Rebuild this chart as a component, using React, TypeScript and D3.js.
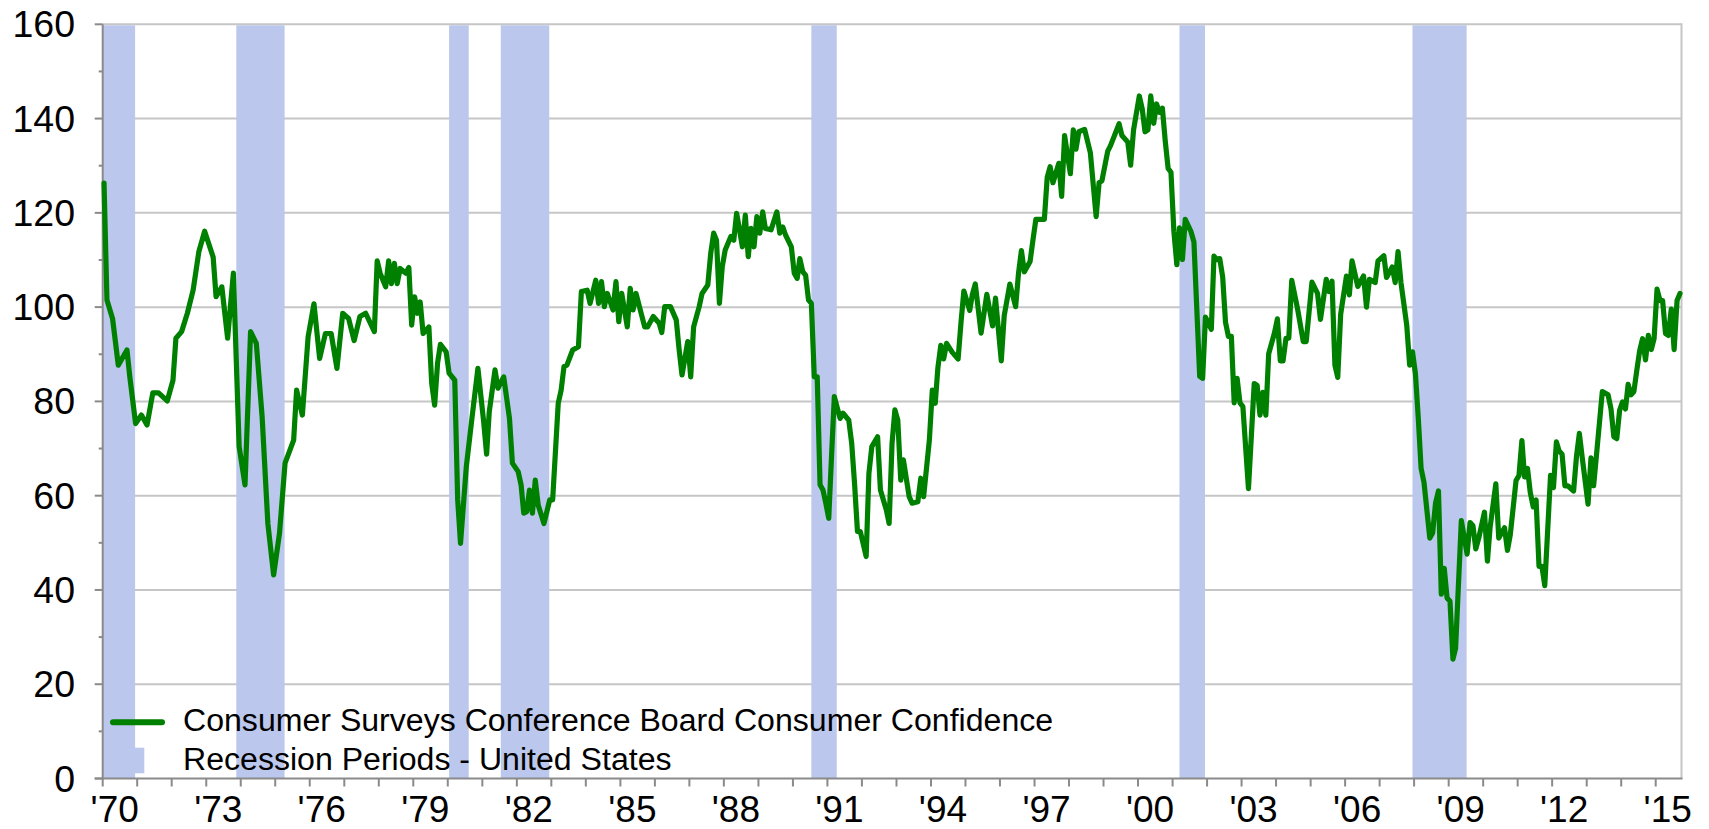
import React from "react";
import * as d3 from "d3";

// Conference Board Consumer Confidence, [month, value]
const series: [string, number][] = [
  ["1970-01", 126.3], ["1970-02", 101.5], ["1970-04", 97.6], ["1970-06", 87.7], ["1970-09", 90.9], ["1970-10", 85.2], ["1970-12", 75.3],
  ["1971-02", 77.1], ["1971-04", 75.0], ["1971-06", 81.8], ["1971-08", 81.8], ["1971-11", 80.1],
  ["1972-01", 84.5], ["1972-02", 93.4], ["1972-04", 94.8], ["1972-06", 98.7], ["1972-08", 103.6], ["1972-10", 111.8], ["1972-12", 116.1],
  ["1973-03", 110.6], ["1973-04", 102.2], ["1973-06", 104.3], ["1973-08", 93.4], ["1973-10", 107.2], ["1973-12", 70.4],
  ["1974-02", 62.3], ["1974-04", 94.8], ["1974-06", 92.3], ["1974-08", 76.8], ["1974-10", 54.1], ["1974-12", 43.2],
  ["1975-02", 52.0], ["1975-04", 66.9], ["1975-07", 71.8], ["1975-08", 82.4], ["1975-10", 77.1], ["1975-12", 93.7],
  ["1976-02", 100.7], ["1976-04", 89.1], ["1976-06", 94.4], ["1976-08", 94.4], ["1976-10", 87.0], ["1976-12", 98.7],
  ["1977-02", 97.6], ["1977-04", 92.9], ["1977-06", 98.0], ["1977-08", 98.7], ["1977-11", 94.8], ["1977-12", 109.8],
  ["1978-01", 107.2], ["1978-03", 104.3], ["1978-04", 109.8], ["1978-05", 105.0], ["1978-06", 109.3], ["1978-07", 105.0],
  ["1978-08", 108.2], ["1978-10", 107.2], ["1978-11", 108.4], ["1978-12", 96.2],
  ["1979-01", 102.2], ["1979-02", 98.7], ["1979-03", 101.1], ["1979-04", 94.4], ["1979-06", 95.8], ["1979-07", 83.8],
  ["1979-08", 79.2], ["1979-09", 88.1], ["1979-10", 92.1], ["1979-12", 90.5],
  ["1980-01", 86.0], ["1980-03", 84.5], ["1980-04", 59.1], ["1980-05", 49.9], ["1980-07", 66.1], ["1980-09", 76.8], ["1980-11", 87.0],
  ["1981-01", 75.7], ["1981-02", 68.8], ["1981-03", 77.8], ["1981-05", 86.7], ["1981-06", 82.8], ["1981-08", 85.2], ["1981-10", 76.4], ["1981-11", 66.9],
  ["1982-01", 65.1], ["1982-02", 62.3], ["1982-03", 56.3], ["1982-04", 56.6], ["1982-05", 61.2], ["1982-06", 56.3], ["1982-07", 63.3],
  ["1982-08", 58.0], ["1982-10", 54.1], ["1982-12", 59.1],
  ["1983-01", 59.1], ["1983-03", 79.6], ["1983-04", 82.4], ["1983-05", 87.4], ["1983-06", 87.7], ["1983-08", 90.9], ["1983-10", 91.6], ["1983-11", 103.3],
  ["1984-01", 103.6], ["1984-02", 100.8], ["1984-04", 105.7], ["1984-05", 100.8], ["1984-06", 105.4], ["1984-07", 100.1], ["1984-08", 102.9],
  ["1984-10", 99.4], ["1984-11", 105.4], ["1984-12", 96.9],
  ["1985-01", 102.9], ["1985-03", 95.8], ["1985-04", 104.0], ["1985-05", 99.4], ["1985-06", 102.9], ["1985-09", 95.8], ["1985-10", 95.8], ["1985-12", 98.0],
  ["1986-02", 96.6], ["1986-03", 94.6], ["1986-04", 100.1], ["1986-06", 100.1], ["1986-08", 97.3], ["1986-09", 90.9], ["1986-10", 85.6], ["1986-12", 92.7],
  ["1987-01", 85.2], ["1987-02", 95.8], ["1987-04", 100.1], ["1987-05", 102.9], ["1987-07", 104.7], ["1987-08", 111.4], ["1987-09", 115.7],
  ["1987-10", 114.2], ["1987-11", 100.8], ["1987-12", 108.6],
  ["1988-01", 112.1], ["1988-03", 115.0], ["1988-04", 114.2], ["1988-05", 119.9], ["1988-06", 116.4], ["1988-07", 112.8], ["1988-08", 119.5],
  ["1988-09", 110.7], ["1988-10", 116.7], ["1988-11", 112.8], ["1988-12", 119.2],
  ["1989-01", 115.7], ["1989-02", 120.2], ["1989-03", 116.7], ["1989-05", 116.4], ["1989-07", 120.2], ["1989-08", 115.7], ["1989-09", 117.0],
  ["1989-10", 115.3], ["1989-12", 112.8],
  ["1990-01", 107.2], ["1990-02", 106.1], ["1990-03", 110.3], ["1990-04", 107.5], ["1990-05", 106.8], ["1990-06", 101.5], ["1990-07", 100.8],
  ["1990-08", 85.2], ["1990-09", 85.2], ["1990-10", 62.3], ["1990-11", 61.2], ["1990-12", 58.4],
  ["1991-01", 55.2], ["1991-02", 69.0], ["1991-03", 81.0], ["1991-05", 76.4], ["1991-06", 77.5], ["1991-08", 76.0], ["1991-09", 71.1],
  ["1991-10", 62.6], ["1991-11", 52.4], ["1991-12", 52.4],
  ["1992-02", 47.1], ["1992-03", 64.7], ["1992-04", 70.4], ["1992-06", 72.5], ["1992-07", 61.2], ["1992-09", 57.0], ["1992-10", 54.1],
  ["1992-11", 71.1], ["1992-12", 78.2],
  ["1993-01", 76.0], ["1993-02", 63.3], ["1993-03", 67.6], ["1993-05", 59.8], ["1993-06", 58.4], ["1993-08", 58.7], ["1993-09", 63.7],
  ["1993-10", 59.8], ["1993-12", 71.8],
  ["1994-01", 82.4], ["1994-02", 79.6], ["1994-03", 87.1], ["1994-04", 91.9], ["1994-05", 89.0], ["1994-06", 92.3], ["1994-08", 90.4],
  ["1994-10", 89.0], ["1994-11", 96.8], ["1994-12", 103.4],
  ["1995-02", 99.3], ["1995-03", 102.7], ["1995-04", 104.9], ["1995-06", 94.5], ["1995-08", 102.7], ["1995-10", 96.0], ["1995-11", 101.9],
  ["1996-01", 88.6], ["1996-02", 98.2], ["1996-04", 104.9], ["1996-06", 100.1], ["1996-07", 107.1], ["1996-08", 112.0], ["1996-09", 107.5],
  ["1996-11", 109.7], ["1996-12", 114.2],
  ["1997-01", 118.6], ["1997-04", 118.6], ["1997-05", 127.5], ["1997-06", 129.8], ["1997-07", 126.4], ["1997-09", 130.5], ["1997-10", 123.5],
  ["1997-11", 136.4], ["1997-12", 132.4],
  ["1998-01", 128.3], ["1998-02", 137.6], ["1998-03", 133.5], ["1998-04", 137.2], ["1998-06", 137.7], ["1998-08", 132.7], ["1998-10", 119.2],
  ["1998-11", 126.4], ["1998-12", 126.8],
  ["1999-02", 133.1], ["1999-03", 134.2], ["1999-06", 138.9], ["1999-07", 136.4], ["1999-09", 135.0], ["1999-10", 130.1], ["1999-11", 137.6],
  ["2000-01", 144.8], ["2000-02", 142.0], ["2000-03", 137.2], ["2000-04", 137.6], ["2000-05", 144.8], ["2000-06", 139.0], ["2000-07", 143.1],
  ["2000-08", 141.3], ["2000-09", 142.2], ["2000-10", 135.3], ["2000-11", 129.4], ["2000-12", 128.6],
  ["2001-01", 116.0], ["2001-02", 109.0], ["2001-03", 116.8], ["2001-04", 110.1], ["2001-05", 118.6], ["2001-07", 116.0], ["2001-08", 113.8],
  ["2001-10", 85.3], ["2001-11", 84.9], ["2001-12", 97.9],
  ["2002-02", 95.3], ["2002-03", 110.8], ["2002-04", 110.1], ["2002-05", 110.3], ["2002-06", 106.4], ["2002-07", 96.8], ["2002-08", 93.8],
  ["2002-09", 93.8], ["2002-10", 79.7], ["2002-11", 84.9], ["2002-12", 79.7],
  ["2003-01", 78.9], ["2003-03", 61.5], ["2003-05", 83.8], ["2003-06", 83.4], ["2003-07", 77.1], ["2003-08", 81.9], ["2003-09", 77.1],
  ["2003-10", 90.1], ["2003-12", 94.5],
  ["2004-01", 97.5], ["2004-02", 88.6], ["2004-03", 88.6], ["2004-04", 93.4], ["2004-05", 93.4], ["2004-06", 105.7], ["2004-08", 99.7],
  ["2004-10", 92.7], ["2004-11", 92.7],
  ["2005-01", 105.3], ["2005-03", 102.9], ["2005-04", 97.4], ["2005-06", 105.9], ["2005-07", 103.3], ["2005-08", 105.5], ["2005-09", 87.7],
  ["2005-10", 85.1], ["2005-11", 98.5],
  ["2006-01", 106.6], ["2006-02", 102.6], ["2006-03", 109.8], ["2006-05", 104.4], ["2006-07", 106.6], ["2006-08", 100.0], ["2006-09", 105.9],
  ["2006-11", 105.2], ["2006-12", 109.8],
  ["2007-02", 110.9], ["2007-03", 106.3], ["2007-05", 108.5], ["2007-06", 105.2], ["2007-07", 111.8], ["2007-08", 105.2], ["2007-10", 96.2],
  ["2007-11", 87.7], ["2007-12", 90.5],
  ["2008-01", 85.9], ["2008-02", 76.2], ["2008-03", 65.8], ["2008-04", 62.8], ["2008-06", 51.0], ["2008-07", 52.1], ["2008-08", 58.4],
  ["2008-09", 61.0], ["2008-10", 39.1], ["2008-11", 44.6], ["2008-12", 38.3],
  ["2009-01", 37.6], ["2009-02", 25.3], ["2009-03", 27.6], ["2009-05", 54.7], ["2009-07", 47.6], ["2009-08", 54.3], ["2009-09", 53.6],
  ["2009-10", 48.7], ["2009-11", 51.0],
  ["2010-01", 56.5], ["2010-02", 46.1], ["2010-03", 53.2], ["2010-05", 62.5], ["2010-06", 51.0], ["2010-08", 53.2], ["2010-09", 48.4],
  ["2010-10", 51.7], ["2010-12", 63.2],
  ["2011-01", 64.3], ["2011-02", 71.7], ["2011-03", 64.0], ["2011-04", 65.8], ["2011-05", 60.6], ["2011-06", 57.6], ["2011-07", 59.1],
  ["2011-08", 45.0], ["2011-09", 45.0], ["2011-10", 40.9], ["2011-12", 64.3],
  ["2012-01", 61.7], ["2012-02", 71.4], ["2012-03", 69.5], ["2012-04", 68.8], ["2012-05", 62.1], ["2012-06", 62.1], ["2012-08", 61.0],
  ["2012-09", 68.4], ["2012-10", 73.2], ["2012-11", 68.0],
  ["2013-01", 58.2], ["2013-02", 68.0], ["2013-03", 62.1], ["2013-04", 68.8], ["2013-06", 82.1], ["2013-08", 81.4], ["2013-09", 78.4],
  ["2013-10", 72.5], ["2013-11", 72.1], ["2013-12", 78.1],
  ["2014-01", 79.9], ["2014-02", 78.4], ["2014-03", 83.6], ["2014-04", 81.4], ["2014-05", 82.1], ["2014-06", 86.6], ["2014-07", 90.7],
  ["2014-08", 93.3], ["2014-09", 88.8], ["2014-10", 94.0], ["2014-11", 91.0], ["2014-12", 93.3],
  ["2015-01", 103.8], ["2015-02", 101.4], ["2015-03", 101.4], ["2015-04", 94.4], ["2015-05", 94.0], ["2015-06", 99.6], ["2015-07", 91.0],
  ["2015-08", 101.4], ["2015-09", 102.9],
];

// US recessions: [peak month, trough month]
const recessions: [string, string][] = [
  ["1969-12", "1970-11"],
  ["1973-11", "1975-03"],
  ["1980-01", "1980-07"],
  ["1981-07", "1982-11"],
  ["1990-07", "1991-03"],
  ["2001-03", "2001-11"],
  ["2007-12", "2009-06"],
];

const yMajorTicks = [0, 20, 40, 60, 80, 100, 120, 140, 160];
const yMinorTicks = [10, 30, 50, 70, 90, 110, 130, 150];
const xLabelYears = [1970, 1973, 1976, 1979, 1982, 1985, 1988, 1991, 1994, 1997, 2000, 2003, 2006, 2009, 2012, 2015];
const seriesLabel = "Consumer Surveys Conference Board Consumer Confidence";
const recessionLabel = "Recession Periods - United States";

const W = 1709;
const H = 829;
const FONT = "'Liberation Sans', Arial, Helvetica, sans-serif";
const GREEN = "#008000";
const BAND = "#BBC7EC";
const GRID = "#C6C6C6";
const AXIS = "#8A8A8A";

function parseMonth(s: string, day = 15): Date {
  const [y, m] = s.split("-").map(Number);
  return new Date(y, m - 1, day);
}

export default function App() {
  const domainStart = new Date(1970, 0, 1);
  const domainEnd = new Date(2015, 9, 1);
  const x = d3.scaleTime().domain([domainStart, domainEnd]).range([102.7, 1681.5]);
  const y = d3.scaleLinear().domain([0, 160]).range([778.5, 24.3]);
  const [x0, x1] = x.range();
  const yBot = y(0);
  const yTop = y(160);

  const line = d3
    .line<[string, number]>()
    .x((d) => x(parseMonth(d[0])))
    .y((d) => y(d[1]))
    .curve(d3.curveLinear);

  const bands = recessions.map(([p, t]) => {
    let s = parseMonth(p, 15);
    const [ty, tm] = t.split("-").map(Number);
    const e = new Date(ty, tm, 10);
    if (s < domainStart) s = domainStart;
    return { x: x(s), w: x(e) - x(s) };
  });

  const yearTicks = d3.range(1970, 2016).map((yr) => new Date(yr, 0, 1));

  return (
    <svg
      width={W}
      height={H}
      viewBox={`0 0 ${W} ${H}`}
      style={{ position: "absolute", left: 0, top: 0, background: "#fff" }}
      fontFamily={FONT}
    >
      <rect x={0} y={0} width={W} height={H} fill="#fff" />
      {/* gridlines */}
      {yMajorTicks.filter((v) => v > 0).map((v) => (
        <line key={`g${v}`} x1={x0} x2={x1} y1={y(v)} y2={y(v)} stroke={GRID} strokeWidth={2} />
      ))}
      {/* recession bands */}
      {bands.map((b, i) => (
        <rect key={`b${i}`} x={b.x} y={yTop + 1} width={b.w} height={yBot - yTop - 1} fill={BAND} />
      ))}
      {/* right border */}
      <line x1={x1} x2={x1} y1={yTop - 1} y2={yBot} stroke={GRID} strokeWidth={2} />
      {/* y axis */}
      <line x1={x0} x2={x0} y1={yTop} y2={yBot + 1} stroke={AXIS} strokeWidth={2} />
      {yMajorTicks.map((v) => (
        <line key={`yt${v}`} x1={x0 - 8} x2={x0} y1={y(v)} y2={y(v)} stroke={AXIS} strokeWidth={2} />
      ))}
      {yMinorTicks.map((v) => (
        <line key={`ym${v}`} x1={x0 - 4} x2={x0} y1={y(v)} y2={y(v)} stroke={AXIS} strokeWidth={2} />
      ))}
      {/* x axis */}
      <line x1={x0 - 8} x2={x1 + 1} y1={yBot} y2={yBot} stroke={AXIS} strokeWidth={2} />
      {yearTicks.map((d, i) => (
        <line key={`xt${i}`} x1={x(d)} x2={x(d)} y1={yBot} y2={yBot + 8} stroke={AXIS} strokeWidth={2} />
      ))}
      {/* y labels */}
      {yMajorTicks.map((v) => (
        <text key={`yl${v}`} x={75} y={y(v) + 13} textAnchor="end" fontSize={37.5} fill="#000">
          {v}
        </text>
      ))}
      {/* x labels */}
      {xLabelYears.map((yr) => (
        <text key={`xl${yr}`} x={x(new Date(yr, 0, 1)) + 12} y={821.5} textAnchor="middle" fontSize={37} fill="#000">
          {"'" + String(yr).slice(2)}
        </text>
      ))}
      {/* data line */}
      <path d={line(series) || ""} fill="none" stroke={GREEN} strokeWidth={5.2} strokeLinejoin="round" strokeLinecap="round" />
      {/* legend */}
      <line x1={113} x2={162} y1={722.3} y2={722.3} stroke={GREEN} strokeWidth={6} strokeLinecap="round" />
      <text x={183} y={730.8} fontSize={32.1} fill="#000">{seriesLabel}</text>
      <rect x={118} y={747.7} width={26.3} height={25.6} fill={BAND} />
      <text x={183} y={769.6} fontSize={32.1} fill="#000">{recessionLabel}</text>
    </svg>
  );
}
